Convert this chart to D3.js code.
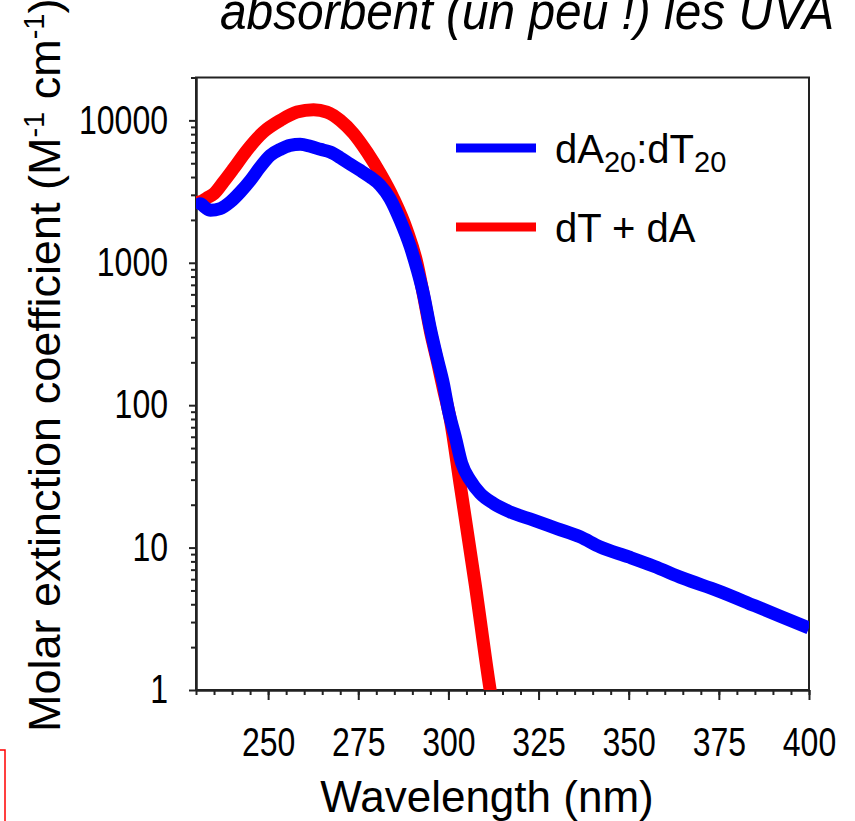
<!DOCTYPE html>
<html>
<head>
<meta charset="utf-8">
<script src="https://cdn.jsdelivr.net/npm/d3@7"></script>
<style>
  body { margin: 0; background: #fff; }
  svg { display: block; font-family: "Liberation Sans", Arial, sans-serif; }
</style>
</head>
<body>
<svg id="canvas" width="855" height="821"></svg>
<script>
// ************************************************************************************************** //
// Data

var blue_nm  = [230, 231.2, 232.5, 234, 236.7, 239.5, 242.3, 245.1, 247.8, 250.6, 253.4, 256.1, 258.9, 261.7, 264.5,
                267.2, 270, 272.8, 275.5, 278.3, 281.1, 283.8, 286.6, 289.4, 291.3, 293.1, 294.9, 296.8, 298.6, 300,
                301.9, 303.7, 306, 308.8, 312.5, 317.1, 323.6, 330.1, 336.5, 342.1, 350, 357, 365, 375, 385, 392, 400];
var blue_eps = [2400, 2600, 2450, 2340, 2400, 2670, 3140, 3800, 4700, 5680, 6260, 6680, 6800, 6580, 6260,
                5990, 5470, 4910, 4460, 4000, 3500, 2820, 1990, 1300, 900, 600, 354, 218, 142, 92,
                60, 39, 29.8, 24, 20.4, 17.8, 15.6, 13.6, 11.9, 10.1, 8.6, 7.4, 6.1, 4.95, 3.9, 3.3, 2.72];

var red_nm  = [230, 231.2, 233, 235, 237.6, 240.4, 244.1, 248.7, 253.4, 258, 262.6, 266.3, 270, 273.7, 277.4,
               281.1, 284.8, 288.5, 291.3, 293.1, 295, 297, 298.6, 300.5, 303.2, 307.4, 311.3, 312];
var red_eps = [2650, 2680, 2850, 3060, 3690, 4580, 6150, 8280, 10000, 11430, 11880, 11430, 10000, 8070, 6000,
               4230, 2820, 1690, 990, 590, 330, 200, 130, 80, 28.3, 5.6, 1.11, 0.85];

var x_ticks = [250, 275, 300, 325, 350, 375, 400];
var y_ticks = [1, 10, 100, 1000, 10000];
var x_domain = [230, 400];
var y_domain = [1, 20000];

var title_text = 'absorbent (un peu !) les UVA';
var x_title = 'Wavelength (nm)';

// ************************************************************************************************** //
// Setup

var svg = d3.select('#canvas');
var plot = { left: 196, top: 77.5, right: 809, bottom: 690 };
var axis_color = '#222';
var narrow = 0.8;   // the picture's lettering is condensed

var xScale = d3.scaleLinear().domain(x_domain).range([plot.left, plot.right]);
var yScale = d3.scaleLog().domain(y_domain).range([plot.bottom, plot.top]);

var x_minor = d3.range(x_domain[0], x_domain[1] + 1, 5);
var y_minor = [];
y_ticks.forEach((d) => { d3.range(2, 10).forEach((k) => { if (k*d <= y_domain[1]) y_minor.push(k*d); }); });

// ************************************************************************************************** //
// Axes

function styleAxis(g){
  g.selectAll('path').attr('stroke', axis_color).attr('stroke-width', 2);
  g.selectAll('line').attr('stroke', axis_color).attr('stroke-width', 2);
  g.selectAll('text').attr('fill', '#000').style('font-size', '40px').style('font-family', '"Liberation Sans", Arial, sans-serif');
}

function condense(g){
  g.selectAll('text').each(function(){
    var t = d3.select(this);
    t.attr('x', +t.attr('x') / narrow).attr('transform', 'scale(' + narrow + ',1)');
  });
}

svg.append('g').attr('transform', 'translate(0,' + plot.bottom + ')')
  .call(d3.axisBottom(xScale).tickValues(x_minor).tickSize(5).tickSizeOuter(0).tickFormat(''))
  .call(styleAxis);
svg.append('g').attr('transform', 'translate(0,' + plot.bottom + ')')
  .call(d3.axisBottom(xScale).tickValues(x_ticks).tickSize(10).tickSizeOuter(0).tickPadding(28).tickFormat(d3.format('d')))
  .call(styleAxis).call(condense);

svg.append('g').attr('transform', 'translate(' + plot.left + ',0)')
  .call(d3.axisLeft(yScale).tickValues(y_minor).tickSize(5).tickSizeOuter(0).tickFormat(''))
  .call(styleAxis);
svg.append('g').attr('transform', 'translate(' + plot.left + ',0)')
  .call(d3.axisLeft(yScale).tickValues(y_ticks).tickSize(7).tickSizeOuter(0).tickPadding(21).tickFormat(d3.format('d')))
  .call(styleAxis).call(condense);

svg.append('rect')
  .attr('x', plot.left).attr('y', plot.top)
  .attr('width', plot.right - plot.left).attr('height', plot.bottom - plot.top)
  .attr('fill', 'none').attr('stroke', axis_color).attr('stroke-width', 2);

// ************************************************************************************************** //
// Curves

svg.append('clipPath').attr('id', 'clip').append('rect')
  .attr('x', plot.left).attr('y', plot.top)
  .attr('width', plot.right - plot.left).attr('height', plot.bottom - plot.top);

var line_gen = d3.line().x((d) => { return xScale(d[0]) }).y((d) => { return yScale(d[1]) }).curve(d3.curveMonotoneX);

var red_data = red_nm.map((d, i) => { return [d, red_eps[i]] });
var blue_data = blue_nm.map((d, i) => { return [d, blue_eps[i]] });

var curves = svg.append('g').attr('clip-path', 'url(#clip)');
curves.append('path').attr('d', line_gen(red_data))
  .attr('fill', 'none').attr('stroke', '#ff0000').attr('stroke-width', 13).attr('stroke-linejoin', 'round');
curves.append('path').attr('d', line_gen(blue_data))
  .attr('fill', 'none').attr('stroke', '#0000ff').attr('stroke-width', 13).attr('stroke-linejoin', 'round');

// ************************************************************************************************** //
// Legend

var legend = svg.append('g');
legend.append('line').attr('x1', 456).attr('x2', 536).attr('y1', 148).attr('y2', 148)
  .attr('stroke', '#0000ff').attr('stroke-width', 9);
legend.append('line').attr('x1', 456).attr('x2', 536).attr('y1', 227).attr('y2', 227)
  .attr('stroke', '#ff0000').attr('stroke-width', 9);

var t1 = legend.append('text').attr('x', 555).attr('y', 163).style('font-size', '40px');
t1.append('tspan').text('dA');
t1.append('tspan').attr('dy', 9).style('font-size', '29px').text('20');
t1.append('tspan').attr('dy', -9).text(':dT');
t1.append('tspan').attr('dy', 9).style('font-size', '29px').text('20');

legend.append('text').attr('x', 555).attr('y', 242).style('font-size', '40px').text('dT + dA');

// ************************************************************************************************** //
// Titles

svg.append('text').attr('transform', 'translate(220,29) scale(0.92,1)')
  .style('font-size', '52px').style('font-style', 'italic').text(title_text);

svg.append('text').attr('x', 487).attr('y', 812).attr('text-anchor', 'middle')
  .style('font-size', '44px').text(x_title);

var yt = svg.append('text').attr('transform', 'translate(60,732) rotate(-90)').style('font-size', '45px');
yt.append('tspan').text('Molar extinction coefficient (M');
yt.append('tspan').attr('dy', -16).style('font-size', '29px').text('-1');
yt.append('tspan').attr('dy', 16).text(' cm');
yt.append('tspan').attr('dy', -16).style('font-size', '29px').text('-1');
yt.append('tspan').attr('dy', 16).text(')');

// red frame fragment at bottom left
svg.append('rect').attr('x', -20).attr('y', 750).attr('width', 25).attr('height', 100)
  .attr('fill', 'none').attr('stroke', '#ff0000').attr('stroke-width', 1.5);
</script>
</body>
</html>
